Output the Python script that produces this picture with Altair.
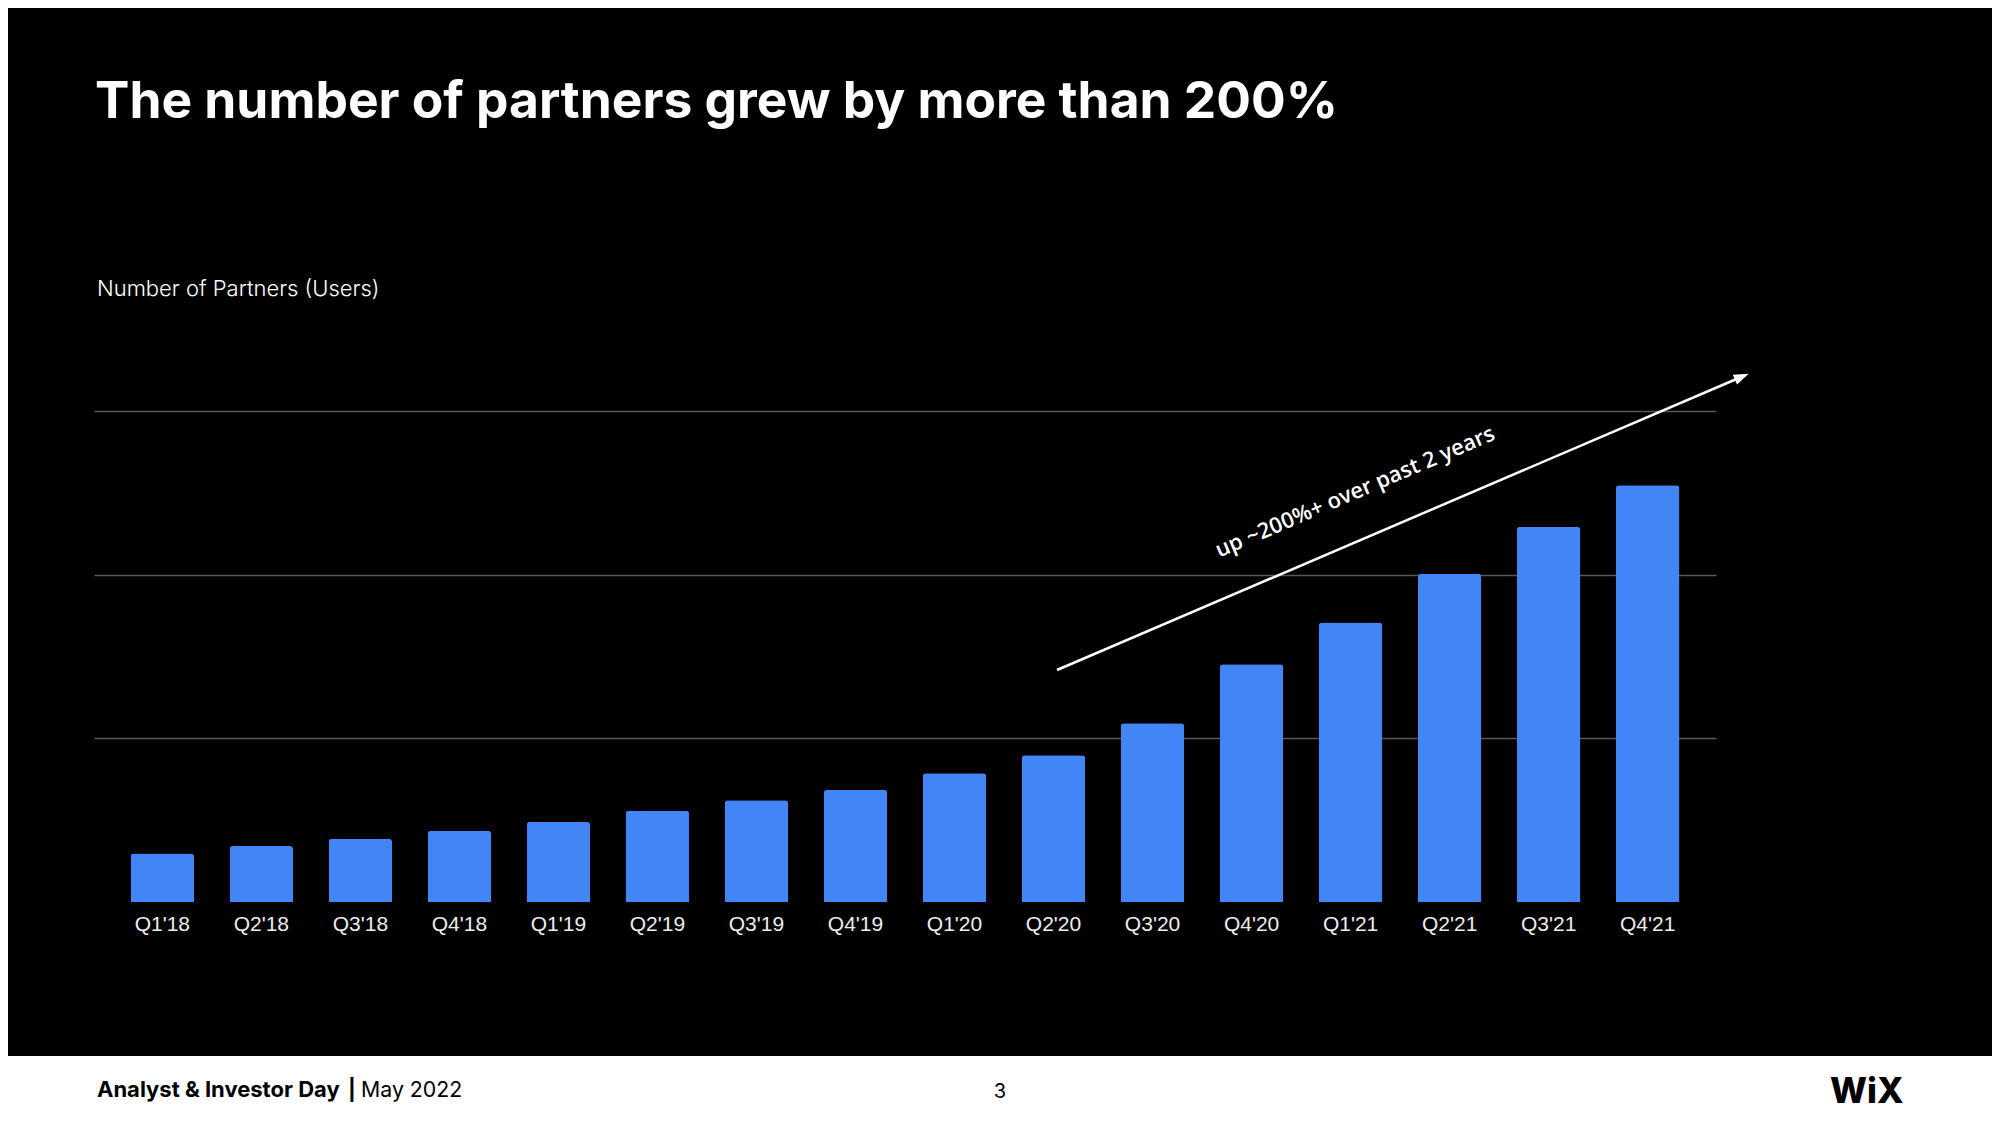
import altair as alt
import pandas as pd

# ---- data (gridlines at 10, 20, 30) ----
quarters = ["Q1'18", "Q2'18", "Q3'18", "Q4'18",
            "Q1'19", "Q2'19", "Q3'19", "Q4'19",
            "Q1'20", "Q2'20", "Q3'20", "Q4'20",
            "Q1'21", "Q2'21", "Q3'21", "Q4'21"]
partners = [2.96, 3.42, 3.87, 4.35,
            4.89, 5.57, 6.21, 6.85,
            7.86, 8.96, 10.92, 14.52,
            17.07, 20.06, 22.92, 25.46]
grid_values = [10, 20, 30]

title_text = "The number of partners grew by more than 200%"
subtitle_text = "Number of Partners (Users)"
arrow_text = "up ~200%+ over past 2 years"
footer_bold = "Analyst & Investor Day"
footer_sep = "|"
footer_date = "May 2022"
page_number = "3"
logo_text = "WiX"

df = pd.DataFrame({"quarter": quarters, "partners": partners})

W, H = 1622, 491
one = alt.Data(values=[{"k": 0}])

bars = alt.Chart(df).mark_bar(
    color="#4285F4", cornerRadiusTopLeft=3, cornerRadiusTopRight=3
).encode(
    x=alt.X("quarter:N", sort=None, title=None,
            scale=alt.Scale(paddingInner=0.36, paddingOuter=0.37),
            axis=alt.Axis(labelAngle=0, labelFont="Liberation Sans", labelFontSize=21,
                          labelColor="#eeeeee", labelPadding=11, ticks=False,
                          domain=False, grid=False)),
    y=alt.Y("partners:Q", title=None,
            scale=alt.Scale(domain=[0, 30], nice=False),
            axis=alt.Axis(values=grid_values, labels=False, ticks=False, domain=False,
                          grid=True, gridColor="#575757", gridWidth=1.3)),
)

def txt(text, x, y, size, weight, font="Inter", color="white", align="left",
        baseline="alphabetic", angle=None):
    kw = dict(text=text, font=font, fontSize=size, fontWeight=weight, color=color,
              align=align, baseline=baseline)
    if angle is not None:
        kw["angle"] = angle
    return alt.Chart(one).mark_text(**kw).encode(x=alt.value(x), y=alt.value(y))

footer_bg = alt.Chart(one).mark_rect(color="white").encode(
    x=alt.value(-120), x2=alt.value(1950), y=alt.value(645), y2=alt.value(720)
)

title = txt(title_text, 1, -293, 51.5, 700)
subtitle = txt(subtitle_text, 3, -115, 22, 300)

arrow_line = alt.Chart(one).mark_rule(color="white", strokeWidth=2.5).encode(
    x=alt.value(963), y=alt.value(259), x2=alt.value(1646), y2=alt.value(-33.5)
)
arrow_head = alt.Chart(one).mark_point(
    shape="M 0 0 L -1 -0.36 L -1 0.36 Z", filled=True, color="white", opacity=1,
    size=900, angle=336.8, strokeWidth=0
).encode(x=alt.value(1654.7), y=alt.value(-37.3))
arrow_label = txt(arrow_text, 1261, 81, 22, 600, font="Open Sans",
                  align="center", baseline="middle", angle=336.8)

f1 = txt(footer_bold, 3, 686, 22, 700, color="black")
f2 = txt(footer_sep, 254, 686, 21, 700, color="black")
f3 = txt(footer_date, 267, 686, 21.3, 400, color="black")
f4 = txt(page_number, 906, 687, 20, 400, color="black", align="center")
f5 = txt(logo_text, 1736, 692, 35, 800, color="black")

chart = alt.layer(
    footer_bg, bars, title, subtitle, arrow_line, arrow_head, arrow_label,
    f1, f2, f3, f4, f5
).properties(
    width=W, height=H,
    padding={"left": 86, "top": 403, "right": 276, "bottom": 215},
    autosize=alt.AutoSizeParams(type="none"),
    background="black",
).configure_view(strokeWidth=0)

chart.save("out.html", embed_options={"renderer": "svg", "actions": False})
